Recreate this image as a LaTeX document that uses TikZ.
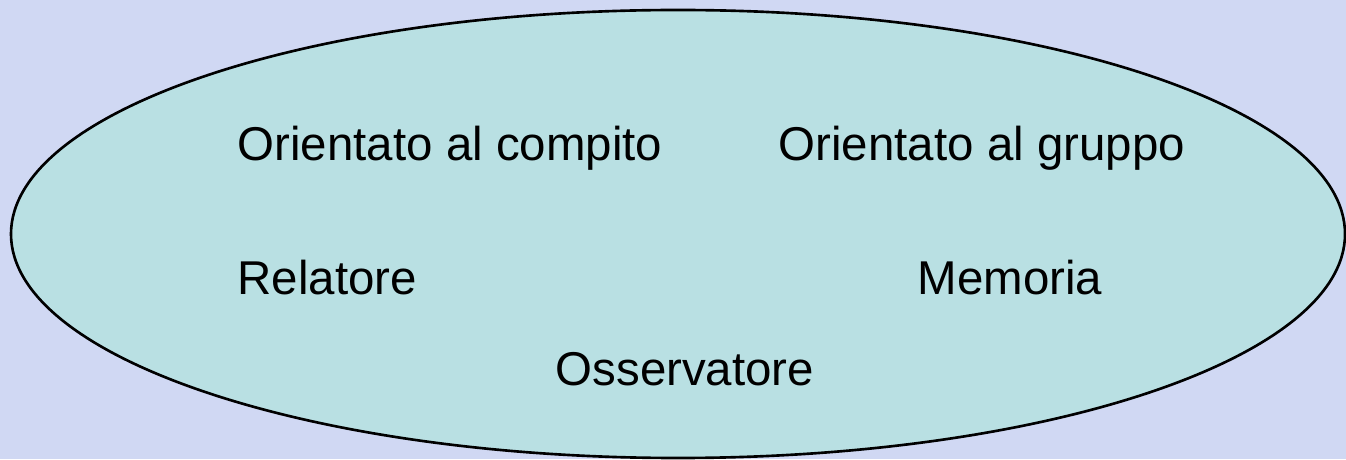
\documentclass[tikz,border=0pt]{standalone}
\usepackage{fontspec}
\setmainfont{Liberation Sans}
\usetikzlibrary{shapes.geometric}
\definecolor{sfondo}{RGB}{208,216,243}
\definecolor{acqua}{RGB}{185,224,227}
\begin{document}
\begin{tikzpicture}
                \tikzstyle{ruolo} = [inner sep=0pt, anchor=base west, font=\fontsize{13.5}{16}\selectfont]
                \tikzstyle{gruppo} = [ellipse, draw=black, line width=0.75pt, fill=acqua, minimum width=13.34cm, minimum height=4.48cm, inner sep=0pt]

                \fill [sfondo] (0,0) rectangle (13.46,4.59);
                \useasboundingbox (0,0) rectangle (13.46,4.59);

                \node (insieme) [gruppo] at (6.78,2.25) {};
                \node (compito) [ruolo] at (2.37,2.98) {Orientato al compito};
                \node (membri) [ruolo] at (7.78,2.98) {Orientato al gruppo};
                \node (relatore) [ruolo] at (2.37,1.64) {Relatore};
                \node (memoria) [ruolo] at (9.17,1.64) {Memoria};
                \node (osservatore) [ruolo] at (5.55,0.74) {Osservatore};
            \end{tikzpicture}
\end{document}
